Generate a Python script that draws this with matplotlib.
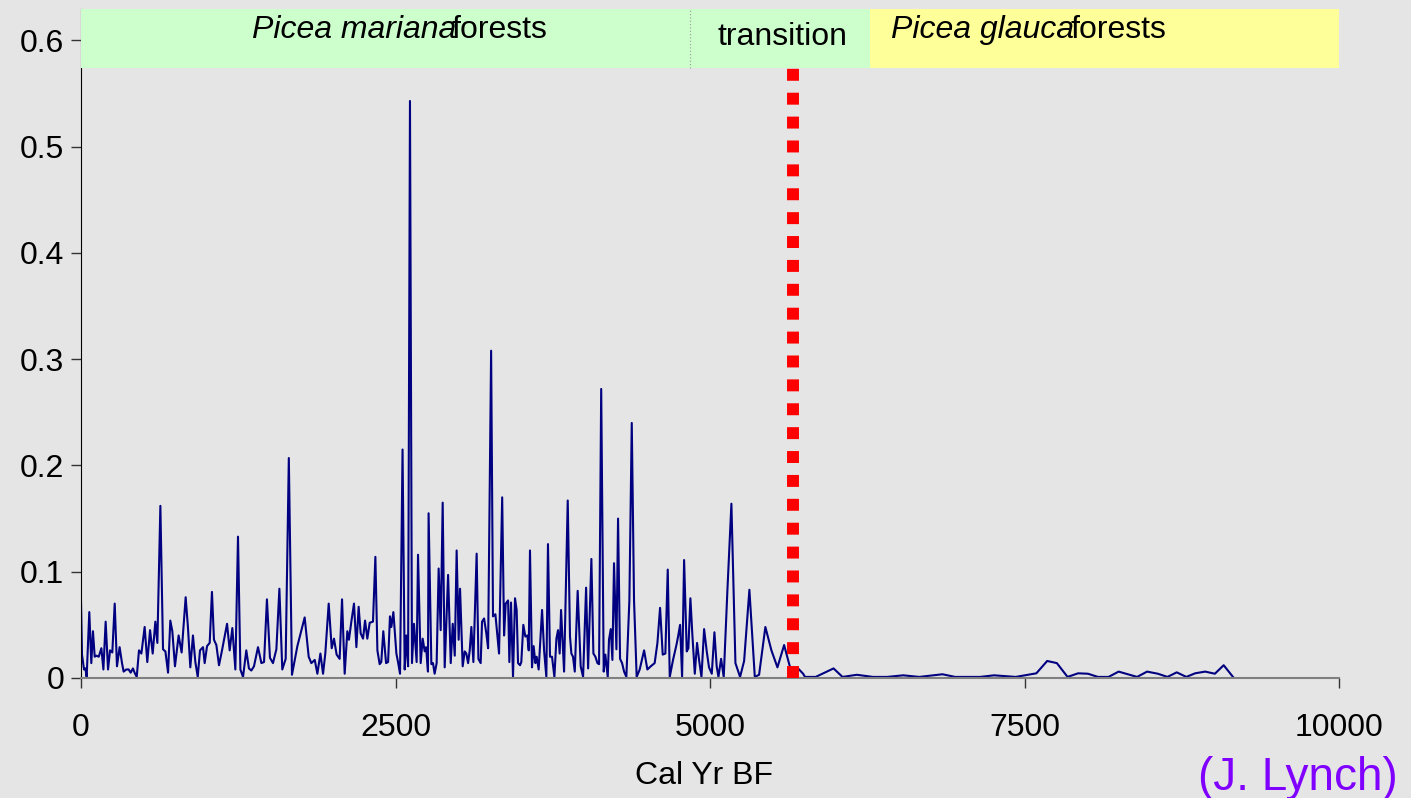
import numpy as np
import matplotlib
matplotlib.use("Agg")
import matplotlib.pyplot as plt

# charcoal record
years = [
    0, 8, 24, 35, 45, 66, 82, 95, 109, 122, 141, 162, 178, 196, 215, 231, 249, 268, 286, 307,
    326, 339, 360, 379, 395, 413, 426, 443, 461, 480, 506, 527, 549, 570, 591, 607, 631, 652, 671, 692,
    710, 726, 747, 776, 800, 832, 850, 869, 890, 909, 928, 946, 970, 983, 1002, 1023, 1041, 1057, 1076, 1097,
    1121, 1142, 1161, 1182, 1203, 1227, 1248, 1267, 1288, 1314, 1335, 1354, 1375, 1407, 1434, 1455, 1478, 1502, 1526, 1553,
    1577, 1600, 1627, 1652, 1677, 1720, 1778, 1810, 1831, 1858, 1879, 1903, 1924, 1942, 1969, 1993, 2011, 2032, 2056, 2075,
    2096, 2117, 2130, 2149, 2170, 2189, 2207, 2223, 2242, 2258, 2276, 2295, 2321, 2340, 2356, 2374, 2387, 2403, 2425, 2441,
    2456, 2467, 2483, 2507, 2520, 2536, 2556, 2573, 2586, 2600, 2615, 2631, 2647, 2668, 2679, 2700, 2716, 2732, 2743, 2758,
    2763, 2785, 2798, 2811, 2827, 2843, 2859, 2875, 2891, 2918, 2939, 2955, 2971, 2986, 3002, 3013, 3034, 3050, 3063, 3077,
    3090, 3103, 3119, 3145, 3159, 3177, 3188, 3204, 3222, 3236, 3260, 3275, 3294, 3310, 3323, 3348, 3363, 3376, 3395, 3405,
    3418, 3434, 3450, 3463, 3474, 3490, 3500, 3516, 3532, 3548, 3559, 3569, 3585, 3598, 3612, 3622, 3638, 3665, 3681, 3699,
    3712, 3728, 3744, 3763, 3779, 3792, 3805, 3816, 3840, 3869, 3887, 3898, 3911, 3925, 3948, 3972, 3991, 4015, 4031, 4057,
    4073, 4089, 4105, 4118, 4135, 4155, 4168, 4187, 4197, 4211, 4224, 4237, 4256, 4269, 4285, 4301, 4317, 4335, 4359, 4378,
    4396, 4417, 4441, 4476, 4502, 4529, 4560, 4582, 4603, 4624, 4645, 4664, 4680, 4706, 4733, 4746, 4762, 4778, 4794, 4815,
    4828, 4844, 4860, 4879, 4897, 4913, 4932, 4953, 4974, 4992, 5014, 5035, 5053, 5067, 5088, 5109, 5138, 5170, 5202, 5239,
    5271, 5313, 5356, 5390, 5440, 5488, 5536, 5589, 5634, 5680, 5700, 5740, 5755, 5840, 5982, 6053, 6167, 6295, 6408, 6536,
    6663, 6848, 6948, 7146, 7258, 7430, 7594, 7680, 7757, 7842, 7926, 8004, 8083, 8168, 8248, 8395, 8474, 8560, 8636, 8710,
    8786, 8856, 8936, 9013, 9083, 9157,
]
values = [
    0.073, 0.022, 0.008, 0.009, 0.001, 0.062, 0.014, 0.044, 0.020, 0.021, 0.020, 0.028, 0.008, 0.053, 0.008, 0.026, 0.024, 0.070, 0.011, 0.029,
    0.014, 0.006, 0.008, 0.008, 0.005, 0.009, 0.005, 0.001, 0.026, 0.023, 0.048, 0.015, 0.045, 0.023, 0.053, 0.033, 0.162, 0.027, 0.025, 0.005,
    0.054, 0.044, 0.011, 0.040, 0.024, 0.076, 0.048, 0.010, 0.040, 0.015, 0.001, 0.026, 0.029, 0.014, 0.030, 0.033, 0.081, 0.036, 0.031, 0.012,
    0.026, 0.039, 0.051, 0.026, 0.047, 0.008, 0.133, 0.008, 0.001, 0.026, 0.009, 0.007, 0.011, 0.029, 0.014, 0.015, 0.074, 0.019, 0.014, 0.027,
    0.084, 0.008, 0.018, 0.207, 0.003, 0.030, 0.057, 0.020, 0.014, 0.017, 0.004, 0.023, 0.004, 0.023, 0.070, 0.028, 0.037, 0.022, 0.018, 0.074,
    0.004, 0.044, 0.036, 0.053, 0.070, 0.029, 0.067, 0.042, 0.037, 0.054, 0.037, 0.052, 0.053, 0.114, 0.026, 0.013, 0.015, 0.044, 0.014, 0.015,
    0.058, 0.048, 0.062, 0.023, 0.015, 0.004, 0.215, 0.008, 0.040, 0.011, 0.543, 0.014, 0.051, 0.015, 0.116, 0.014, 0.037, 0.025, 0.029, 0.006,
    0.155, 0.013, 0.014, 0.004, 0.014, 0.103, 0.045, 0.165, 0.010, 0.097, 0.014, 0.051, 0.021, 0.120, 0.036, 0.084, 0.011, 0.025, 0.023, 0.014,
    0.026, 0.048, 0.015, 0.117, 0.018, 0.014, 0.053, 0.056, 0.042, 0.028, 0.308, 0.058, 0.060, 0.039, 0.023, 0.170, 0.040, 0.070, 0.073, 0.015,
    0.071, 0.001, 0.075, 0.064, 0.014, 0.012, 0.015, 0.050, 0.039, 0.040, 0.026, 0.120, 0.010, 0.030, 0.014, 0.020, 0.008, 0.064, 0.026, 0.001,
    0.126, 0.020, 0.020, 0.001, 0.037, 0.045, 0.023, 0.064, 0.006, 0.167, 0.039, 0.023, 0.020, 0.006, 0.082, 0.011, 0.001, 0.085, 0.009, 0.112,
    0.023, 0.020, 0.014, 0.013, 0.272, 0.006, 0.022, 0.001, 0.036, 0.046, 0.017, 0.108, 0.027, 0.150, 0.018, 0.014, 0.006, 0.001, 0.073, 0.240,
    0.073, 0.001, 0.008, 0.026, 0.008, 0.011, 0.014, 0.033, 0.066, 0.022, 0.023, 0.102, 0.001, 0.017, 0.031, 0.039, 0.050, 0.001, 0.111, 0.025,
    0.028, 0.075, 0.040, 0.004, 0.033, 0.017, 0.001, 0.046, 0.025, 0.010, 0.004, 0.043, 0.011, 0.001, 0.018, 0.001, 0.082, 0.164, 0.014, 0.001,
    0.016, 0.083, 0.001, 0.003, 0.048, 0.026, 0.010, 0.031, 0.011, 0.007, 0.009, 0.004, 0.001, 0.001, 0.009, 0.001, 0.003, 0.001, 0.001, 0.0025,
    0.001, 0.0035, 0.001, 0.001, 0.0025, 0.001, 0.0044, 0.016, 0.014, 0.001, 0.0044, 0.004, 0.001, 0.001, 0.006, 0.001, 0.006, 0.004, 0.001, 0.0053,
    0.001, 0.0044, 0.006, 0.004, 0.012, 0.001,
]

# vegetation zones (cal yr BP)
zone_names = ["Picea mariana", "transition", "Picea glauca"]
zone_starts = [0, 4840, 6270]
zone_ends = [4840, 6270, 10000]
zone_colors = ["#CCFFCC", "#CCFFCC", "#FFFF99"]
shift_year = 5660

xticks = [0, 2500, 5000, 7500, 10000]
xtick_labels = ["0", "2500", "5000", "7500", "10000"]
yticks = [0, 0.1, 0.2, 0.3, 0.4, 0.5, 0.6]
ytick_labels = ["0", "0.1", "0.2", "0.3", "0.4", "0.5", "0.6"]

bg = "#E5E5E5"
plt.rcParams["font.family"] = ["Liberation Sans", "DejaVu Sans"]

fig = plt.figure(figsize=(14.11, 7.98), dpi=100, facecolor=bg)
ax = fig.add_axes([0.0574, 0.1504, 0.8916, 0.8389])
ax.set_facecolor(bg)

ax.plot(years, values, color="#000080", lw=1.5, zorder=2)

ax.set_xlim(0, 10000)
ax.set_ylim(0, 0.63)

# zone bands along the top
band_lo = 0.574
for start, end, col in zip(zone_starts, zone_ends, zone_colors):
    ax.fill_between([start, end], band_lo, 0.63, color=col, lw=0, zorder=3)
ax.plot([zone_starts[1], zone_starts[1]], [band_lo, 0.63], color="#999999",
        lw=0.8, ls=(0, (1, 2)), zorder=4)

fs = 23
ax.text(1359, 0.610, "Picea mariana", style="italic", fontsize=fs, va="center", ha="left", zorder=5)
ax.text(2949, 0.610, "forests", fontsize=fs, va="center", ha="left", zorder=5)
ax.text((zone_starts[1] + zone_ends[1]) / 2 + 20, 0.603, "transition", fontsize=fs,
        va="center", ha="center", zorder=5)
ax.text(6439, 0.610, "Picea glauca", style="italic", fontsize=fs, va="center", ha="left", zorder=5)
ax.text(7862, 0.610, "forests", fontsize=fs, va="center", ha="left", zorder=5)

# shift to black spruce
ax.plot([shift_year, shift_year], [0, band_lo], color="#FF0000", lw=8.6,
        ls=(0, (1, 1)), solid_capstyle="butt", dash_capstyle="butt", zorder=4)

ax.set_xticks(xticks)
ax.set_xticklabels(xtick_labels)
ax.set_yticks(yticks)
ax.set_yticklabels(ytick_labels)
ax.tick_params(axis="both", labelsize=fs, length=7, width=1, color="#333333")
ax.tick_params(axis="x", pad=18)
ax.tick_params(axis="y", pad=5)

for s in ["top", "right"]:
    ax.spines[s].set_visible(False)
ax.spines["left"].set_color("black")
ax.spines["bottom"].set_color("#808080")
ax.spines["bottom"].set_linewidth(1.5)

fig.text(704 / 1411, 1 - 776 / 798, "Cal Yr BF", fontsize=fs, ha="center", va="center")
fig.text(1398 / 1411, 1 - 778 / 798, "(J. Lynch)", fontsize=33, color="#8000FF",
         ha="right", va="center")

fig.savefig("out.png", dpi=100, facecolor=bg)
